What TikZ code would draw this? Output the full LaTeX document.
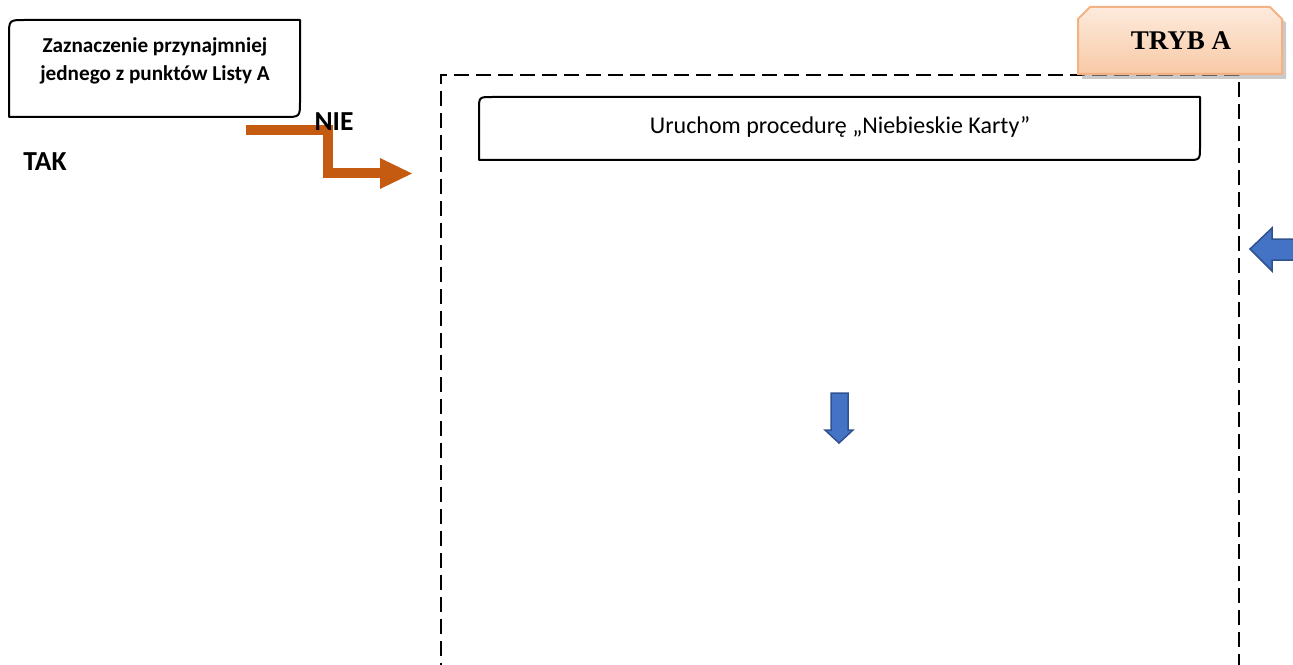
\documentclass[tikz,border=0pt]{standalone}
\usepackage{fontspec}
\setmainfont{Carlito}
\newfontfamily\cambriafont{Liberation Serif}
\definecolor{orangearrow}{HTML}{C55A11}
\definecolor{bluefill}{HTML}{4472C4}
\definecolor{blueedge}{HTML}{2F528F}
\definecolor{peachedge}{HTML}{F4B183}
\definecolor{peachtop}{HTML}{FDEBDD}
\definecolor{peachbot}{HTML}{F8C9A6}
\tikzset{
  boxline/.style={draw=black, line width=2bp, line join=round},
  dashframe/.style={draw=black, line width=1.8bp, dash pattern=on 15bp off 7bp},
  flowarrow/.style={draw=orangearrow, line width=10bp, line join=miter},
  blockarrow/.style={fill=bluefill, draw=blueedge, line width=1.5bp, line join=miter},
  boldlabel/.style={font=\fontsize{27.5bp}{30bp}\selectfont\bfseries, inner sep=0pt},
  boxtext/.style={font=\fontsize{21.2bp}{28bp}\selectfont\bfseries, align=center, inner sep=0pt},
  headtext/.style={font=\fontsize{24bp}{28bp}\selectfont, inner sep=0pt},
  trybtext/.style={font=\cambriafont\fontsize{27bp}{30bp}\selectfont\bfseries, inner sep=0pt}
}
\begin{document}
\begin{tikzpicture}[x=1bp, y=-1bp]
\useasboundingbox (0,0) rectangle (1293,665);
\clip (0,0) rectangle (1293,665);

% dashed frame (open at the bottom)
\draw[dashframe] (441,700) -- (441,75) -- (1239,75) -- (1239,700);

% top-left question box
\draw[boxline, fill=white] (9,117) -- (9,36) .. controls (9,20) .. (25,20) -- (300,20) -- (300,101) .. controls (300,117) .. (284,117) -- cycle;
\node[boxtext] (q) at (155,61) {Zaznaczenie przynajmniej\\jednego z punktów Listy A};

% header box inside the frame
\draw[boxline, fill=white] (479,160) -- (479,110) .. controls (479,97) .. (492,97) -- (1200,97) -- (1200,147) .. controls (1200,160) .. (1187,160) -- cycle;
\node[headtext] (h) at (840,127) {Uruchom procedurę „Niebieskie Karty”};

% TRYB A tab
\fill[black!35, opacity=0.6] (1082,79) -- (1082,23) -- (1094,11) -- (1274,11) -- (1286,23) -- (1286,79) -- cycle;
\draw[draw=peachedge, line width=2bp, top color=peachtop, bottom color=peachbot] (1078,74) -- (1078,19) -- (1090,7) -- (1270,7) -- (1282,19) -- (1282,74) -- cycle;
\node[trybtext] (tryb) at (1181,41) {TRYB A};

% orange NIE arrow
\coordinate (oa) at (246,130);
\coordinate (ob) at (328,130);
\coordinate (oc) at (328,173);
\coordinate (od) at (381,173);
\draw[flowarrow] (oa) -- (ob) -- (oc) -- (od);
\fill[orangearrow] (380,158) -- (412,173.5) -- (380,189) -- cycle;

% labels
\node[boldlabel] (tak) at (45,162) {TAK};
\node[boldlabel] (nie) at (334,122) {NIE};

% blue arrow pointing left (right edge)
\draw[blockarrow] (1250,249) -- (1272,228) -- (1272,239) -- (1300,239) -- (1300,260) -- (1272,260) -- (1272,271) -- cycle;

% small blue arrow pointing down
\draw[blockarrow] (831,393) -- (848,393) -- (848,430) -- (853,430) -- (839,443) -- (825,430) -- (831,430) -- cycle;
\end{tikzpicture}
\end{document}
